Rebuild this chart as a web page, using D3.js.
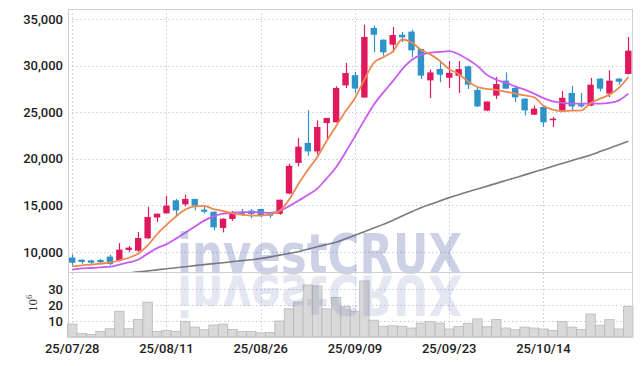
<!DOCTYPE html>
<html>
<head>
<meta charset="utf-8">
<script src="https://cdn.jsdelivr.net/npm/d3@7"></script>
<style>
  body { margin: 0; background: #fff; }
  .tick text { font-family: Roboto, "Liberation Sans", sans-serif; font-weight: 500; fill: #222; }
</style>
</head>
<body>
<div id="chart"></div>
<script>
// trading days (yy/mm/dd)
const dates = ["25/07/28","25/07/29","25/07/30","25/07/31","25/08/01","25/08/04","25/08/05","25/08/06","25/08/07","25/08/08",
  "25/08/11","25/08/12","25/08/13","25/08/14","25/08/18","25/08/19","25/08/20","25/08/21","25/08/22","25/08/25",
  "25/08/26","25/08/27","25/08/28","25/08/29","25/09/01","25/09/02","25/09/03","25/09/04","25/09/05","25/09/08",
  "25/09/09","25/09/10","25/09/11","25/09/12","25/09/15","25/09/16","25/09/17","25/09/18","25/09/19","25/09/22",
  "25/09/23","25/09/24","25/09/25","25/09/26","25/09/29","25/09/30","25/10/01","25/10/02","25/10/10","25/10/13",
  "25/10/14","25/10/15","25/10/16","25/10/17","25/10/20","25/10/21","25/10/22","25/10/23","25/10/24","25/10/27"];

const open  = [9400,9170,9100,9150,9500,9100,10215,10140,11460,13700,14140,15540,15110,15690,14540,14320,12580,13540,14290,14430,
  14610,14100,14100,16270,19550,21700,20790,23840,23910,27870,28970,26570,34030,32780,32240,33310,33640,31780,28410,29630,
  28690,28910,29920,27390,25170,26770,28380,27600,26450,24730,25560,24200,25170,27060,25840,25700,28600,26990,28600,29100];
const high  = [9750,9200,9120,9250,9700,10950,10650,12150,14830,14110,16000,15680,16150,15700,14830,14330,13600,14400,14620,14620,
  14650,14200,15610,19470,22230,25200,24120,24380,27780,30280,29320,34390,34280,32800,34140,33600,33850,31800,29560,30560,
  30490,30490,30000,27700,26140,28780,29270,27700,26500,25700,25600,24490,27260,27840,27060,28670,28650,29490,28650,33070];
const low   = [8550,8740,8720,8640,8600,8980,10000,10030,11400,13220,14140,13960,14890,14460,14110,12320,12100,13330,13850,13630,
  13750,13650,14000,16200,19180,20330,20440,21970,23900,27600,27070,26570,31460,31060,31420,32530,30920,28560,26520,28200,
  27600,27060,27490,25560,25100,26420,27520,26090,24660,24700,23410,23410,25060,25190,25490,25650,27230,26630,27950,29050];
const close = [8850,8930,8850,8900,8700,10250,10460,11500,13760,14110,14970,14460,15690,14970,14320,12640,13570,14180,14080,14080,
  13900,13900,15610,19240,21300,20790,23410,24380,27600,29200,27530,33070,33310,31420,33280,33030,31630,28920,29270,29020,
  29220,29620,27950,25620,26140,28020,27520,26590,25190,25380,23910,24300,26540,25620,25620,27950,27520,28380,28270,31600];

// volume, millions of shares
const volume = [8.1,2.2,1.6,3.5,5.2,16.1,5.2,11,21.8,3.5,4.1,3.5,9.8,6.2,4.5,7.5,8.1,4.7,3.5,3.5,
  2.6,2.9,10,17.6,21.8,32.5,31.9,17.6,24.7,19,16.1,35,10.5,6.7,7,6.7,5.6,8.7,9.6,8.7,
  5,6.7,8.5,11.3,6.4,11,5.6,4.5,6.2,5.6,5,4.1,9.6,6.2,4.7,14.4,7.3,10.8,5,19];

// moving averages as drawn
const ma5 = [8450,8560,8650,8760,8850,9100,9380,9820,10700,11900,12900,13800,14550,14900,14950,14600,14400,14150,14000,13900,
  13900,14050,14400,15600,17300,18800,20200,21900,23500,25100,26500,28500,30300,30900,31500,32800,32500,31700,31200,30500,
  29600,29100,28300,27700,27500,27400,27200,27000,26800,26600,25700,25270,25090,25160,25200,25990,26450,26880,27600,28780];
const ma20 = [8100,8240,8280,8350,8420,8640,8880,9170,9820,10410,10840,11430,12070,12710,13360,13820,14110,14220,14270,14270,
  14250,14180,14400,14900,15500,16100,16800,17900,19100,20700,22400,24150,25800,27100,28300,29600,30600,31150,31400,31470,
  31540,31220,30640,29940,29000,28480,28160,27770,27410,26990,26500,26160,25990,25910,25910,25910,25910,25990,26270,26990];
const maLong = [7160,7250,7360,7460,7560,7660,7760,7860,7970,8080,8200,8300,8410,8530,8640,8750,8850,8960,9070,9170,
  9290,9470,9660,9840,10030,10290,10550,10800,11050,11420,11790,12180,12560,12960,13380,13850,14310,14750,15110,15460,
  15830,16150,16450,16760,17060,17360,17670,17970,18270,18580,18880,19200,19500,19800,20100,20410,20770,21140,21510,21870];

const priceTicks = [10000,15000,20000,25000,30000,35000];
const volTicks = [10,20,30];
const dateLabels = ["25/07/28","25/08/11","25/08/26","25/09/09","25/09/23","25/10/14"];

const width = 642, height = 366;
const plotLeft = 68, plotRight = 632, plotTop = 9, paneSplit = 272, plotBottom = 337;
const upColor = "#e0185e", downColor = "#2d93c9";
const gridColor = "#c6c9dc", frameColor = "#cfcfd6";

const svg = d3.select("#chart")
  .append("svg")
    .attr("width", width)
    .attr("height", height);

const x = d3.scaleBand()
  .domain(dates)
  .range([67.5, 633])
  .padding(0);
const y = d3.scaleLinear()
  .domain([7850, 36070])
  .range([paneSplit, plotTop]);
const yv = d3.scaleLinear()
  .domain([0, 40.6])
  .range([plotBottom, paneSplit]);

const cx = d => x(d) + x.bandwidth() / 2;

svg.append("defs").append("clipPath")
    .attr("id", "priceClip")
  .append("rect")
    .attr("x", plotLeft).attr("y", plotTop)
    .attr("width", plotRight - plotLeft).attr("height", paneSplit - plotTop);

// grid
const grid = svg.append("g")
  .attr("stroke", gridColor)
  .attr("stroke-dasharray", "1.5,2.5");
grid.selectAll(".hp")
  .data(priceTicks)
  .enter()
  .append("line")
    .attr("x1", plotLeft).attr("x2", plotRight)
    .attr("y1", d => Math.round(y(d)) + 0.5).attr("y2", d => Math.round(y(d)) + 0.5);
grid.selectAll(".hv")
  .data(volTicks)
  .enter()
  .append("line")
    .attr("x1", plotLeft).attr("x2", plotRight)
    .attr("y1", d => Math.round(yv(d)) + 0.5).attr("y2", d => Math.round(yv(d)) + 0.5);
grid.selectAll(".vx")
  .data(dateLabels)
  .enter()
  .append("line")
    .attr("x1", d => Math.round(cx(d)) + 0.5).attr("x2", d => Math.round(cx(d)) + 0.5)
    .attr("y1", plotTop).attr("y2", plotBottom);

// volume bars
svg.append("g")
  .selectAll("rect")
  .data(volume)
  .enter()
  .append("rect")
    .attr("x", (d, i) => x(dates[i]))
    .attr("y", d => yv(d))
    .attr("width", x.bandwidth())
    .attr("height", d => plotBottom - yv(d))
    .attr("fill", "#d9d9d9")
    .attr("stroke", "#b9b9b9")
    .attr("stroke-width", 0.8);

// moving averages
const plot = svg.append("g").attr("clip-path", "url(#priceClip)");
const line = d3.line()
  .x((d, i) => cx(dates[i]))
  .y(d => y(d))
  .curve(d3.curveMonotoneX);

plot.append("path")
  .datum(maLong)
  .attr("d", line)
  .attr("fill", "none")
  .attr("stroke", "#7b7b7b")
  .attr("stroke-width", 1.6);

// candles
const candles = plot.selectAll(".candle")
  .data(dates)
  .enter()
  .append("g")
    .attr("class", "candle");
candles.append("line")
  .attr("x1", d => Math.round(cx(d)) + 0.5)
  .attr("x2", d => Math.round(cx(d)) + 0.5)
  .attr("y1", (d, i) => y(high[i]))
  .attr("y2", (d, i) => y(low[i]))
  .attr("stroke", (d, i) => close[i] >= open[i] ? upColor : downColor)
  .attr("stroke-width", 1.2);
candles.append("rect")
  .attr("x", d => cx(d) - 3.2)
  .attr("width", 6.4)
  .attr("y", (d, i) => y(Math.max(open[i], close[i])))
  .attr("height", (d, i) => Math.max(1.5, Math.abs(y(open[i]) - y(close[i]))))
  .attr("fill", (d, i) => close[i] >= open[i] ? upColor : downColor);

plot.append("path")
  .datum(ma20)
  .attr("d", line)
  .attr("fill", "none")
  .attr("stroke", "#c95bef")
  .attr("stroke-width", 1.8);
plot.append("path")
  .datum(ma5)
  .attr("d", line)
  .attr("fill", "none")
  .attr("stroke", "#ee8852")
  .attr("stroke-width", 1.8);

// watermark with reflection
const wm = svg.append("g")
  .style("font-family", "'DejaVu Sans', 'Liberation Sans', sans-serif")
  .style("font-weight", "bold")
  .style("font-size", "56px");
wm.append("text")
  .attr("x", 177).attr("y", 273)
  .attr("textLength", 285)
  .attr("lengthAdjust", "spacingAndGlyphs")
  .attr("fill", "#5b6bab")
  .attr("opacity", 0.3)
  .text("investCRUX");
wm.append("text")
  .attr("transform", "translate(0,549) scale(1,-1)")
  .attr("x", 177).attr("y", 273)
  .attr("textLength", 285)
  .attr("lengthAdjust", "spacingAndGlyphs")
  .attr("fill", "#5b6bab")
  .attr("opacity", 0.16)
  .text("investCRUX");

// frames
svg.append("rect")
  .attr("x", plotLeft + 0.5).attr("y", plotTop + 0.5)
  .attr("width", plotRight - plotLeft).attr("height", paneSplit - plotTop)
  .attr("fill", "none").attr("stroke", frameColor);
svg.append("rect")
  .attr("x", plotLeft + 0.5).attr("y", paneSplit + 0.5)
  .attr("width", plotRight - plotLeft).attr("height", plotBottom - paneSplit)
  .attr("fill", "none").attr("stroke", frameColor);

// axes
svg.append("g")
  .attr("transform", `translate(${plotLeft},0)`)
  .call(d3.axisLeft(y)
        .tickValues(priceTicks)
        .tickSize(0)
        .tickPadding(5)
        .tickFormat(d3.format(",")))
  .call(g => g.select(".domain").remove())
  .selectAll("text").style("font-size", "13px");

svg.append("g")
  .attr("transform", `translate(${plotLeft},0)`)
  .call(d3.axisLeft(yv)
        .tickValues(volTicks)
        .tickSize(0)
        .tickPadding(5))
  .call(g => g.select(".domain").remove())
  .selectAll("text").style("font-size", "13px");

svg.append("g")
  .attr("transform", `translate(0,${plotBottom})`)
  .call(d3.axisBottom(x)
        .tickValues(dateLabels)
        .tickSize(0)
        .tickPadding(7))
  .call(g => g.select(".domain").remove())
  .selectAll("text").style("font-size", "13px");

// volume unit 10^6
const unit = svg.append("text")
  .attr("transform", "translate(37,312) rotate(-90)")
  .style("font-family", "'Liberation Serif', 'DejaVu Serif', serif")
  .style("font-size", "13px")
  .attr("fill", "#333");
unit.append("tspan").text("10");
unit.append("tspan").attr("dy", -5).style("font-size", "9px").text("6");
</script>
</body>
</html>
